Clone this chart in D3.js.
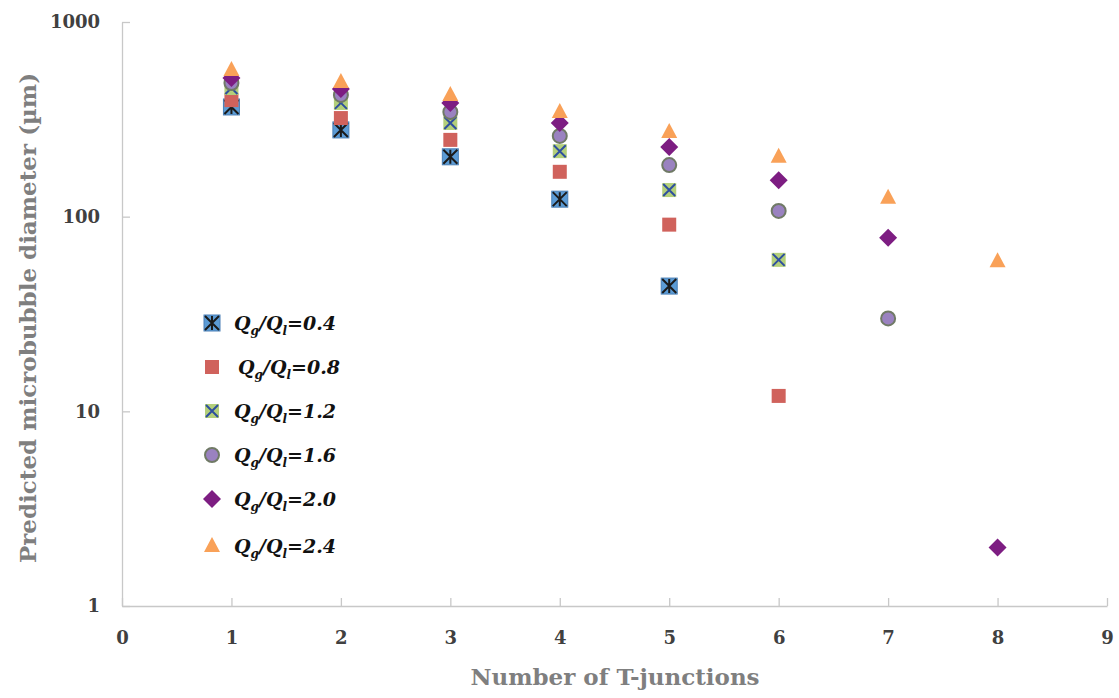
<!DOCTYPE html>
<html><head><meta charset="utf-8">
<script src="https://cdn.jsdelivr.net/npm/d3@7"></script>
<style>body{margin:0;background:#fff}svg{display:block}</style>
</head><body>
<svg id="c" width="1119" height="698"></svg>
<script>
const junctions = [1,2,3,4,5,6,7,8];
const ratioLabels = ["0.4","0.8","1.2","1.6","2.0","2.4"];
const s04 = [366,279,203,123,44];
const s08 = [397,321,248,170,91,12];
const s12 = [458,384,303,217,137,60];
const s16 = [486,422,345,260,184,107,30];
const s20 = [516,453,384,303,228,154,78,2];
const s24 = [567,492,422,345,272,203,125,59];
const xTicks = [0,1,2,3,4,5,6,7,8,9];
const yTicks = [1,10,100,1000];
const seriesValues = [s04,s08,s12,s16,s20,s24];

const svg = d3.select("#c");
const x = d3.scaleLinear().domain([0,9]).range([122,1107]);
const y = d3.scaleLog().domain([1,1000]).range([606,22]);
const serif = "'DejaVu Serif','Liberation Serif',serif";

// axes
const xa = svg.append("g").attr("transform","translate(0,606)")
  .call(d3.axisBottom(x).tickValues(xTicks).tickSizeInner(-8).tickSizeOuter(0).tickPadding(22).tickFormat(d3.format("d")));
const ya = svg.append("g").attr("transform","translate(122,0)")
  .call(d3.axisLeft(y).tickValues(yTicks).tickSizeInner(-8).tickSizeOuter(0).tickPadding(22).tickFormat(d3.format("d")));
[xa,ya].forEach(a=>{
  a.selectAll("path,line").attr("stroke","#c8c8c8").attr("stroke-width",1.3);
  a.selectAll("text").attr("font-family",serif).attr("font-weight","bold").attr("font-size",18).attr("fill","#404040");
});
xa.selectAll("text").attr("dy","0.9em");

// titles
svg.append("text").attr("x",615).attr("y",685).attr("text-anchor","middle")
  .attr("font-family",serif).attr("font-weight","bold").attr("font-size",23).attr("fill","#7f7f7f")
  .text("Number of T-junctions");
svg.append("text").attr("transform","translate(36,318) rotate(-90)").attr("text-anchor","middle")
  .attr("font-family",serif).attr("font-weight","bold").attr("font-size",23).attr("fill","#7f7f7f")
  .text("Predicted microbubble diameter (µm)");

// marker drawing
function drawMarker(g, i){
  if(i===0){
    g.append("rect").attr("x",-8).attr("y",-8).attr("width",16).attr("height",16).attr("fill","#5b9bd5").attr("stroke","#4a7fb5").attr("stroke-width",1);
    g.append("path").attr("d","M-7,-7L7,7M-7,7L7,-7M0,-7L0,7").attr("stroke","#1a1a1a").attr("stroke-width",2);
  } else if(i===1){
    g.append("rect").attr("x",-7).attr("y",-7).attr("width",14).attr("height",14).attr("fill","#d0625c");
  } else if(i===2){
    g.append("rect").attr("x",-7).attr("y",-7).attr("width",14).attr("height",14).attr("fill","#b3cf7a");
    g.append("path").attr("d","M-6,-6L6,6M-6,6L6,-6").attr("stroke","#2e4f9e").attr("stroke-width",2);
  } else if(i===3){
    g.append("circle").attr("r",7).attr("fill","#9a82c0").attr("stroke","#707a66").attr("stroke-width",2);
  } else if(i===4){
    g.append("path").attr("d","M0,-9L9,0L0,9L-9,0Z").attr("fill","#7d1d82");
  } else {
    g.append("path").attr("d","M0,-9L8,6L-8,6Z").attr("fill","#f9a158");
  }
}

seriesValues.forEach((vals,i)=>{
  const g = svg.append("g");
  vals.forEach((v,j)=>{
    const m = g.append("g").attr("transform",`translate(${x(junctions[j])},${y(v)})`);
    drawMarker(m,i);
  });
});

// legend
const legY = [323,367,411,455,499,546];
ratioLabels.forEach((lab,i)=>{
  const g = svg.append("g").attr("transform",`translate(212,${legY[i]})`);
  drawMarker(g,i);
  const t = svg.append("text").attr("x", i===1?238:234).attr("y",legY[i]+7)
    .attr("font-family",serif).attr("font-weight","bold").attr("font-style","italic").attr("font-size",19).attr("fill","#111");
  t.append("tspan").text("Q");
  t.append("tspan").attr("font-size",12).attr("dy",5).text("g");
  t.append("tspan").attr("dy",-5).text("/Q");
  t.append("tspan").attr("font-size",12).attr("dy",5).text("l");
  t.append("tspan").attr("dy",-5).text("=" + lab);
});
</script>
</body></html>
